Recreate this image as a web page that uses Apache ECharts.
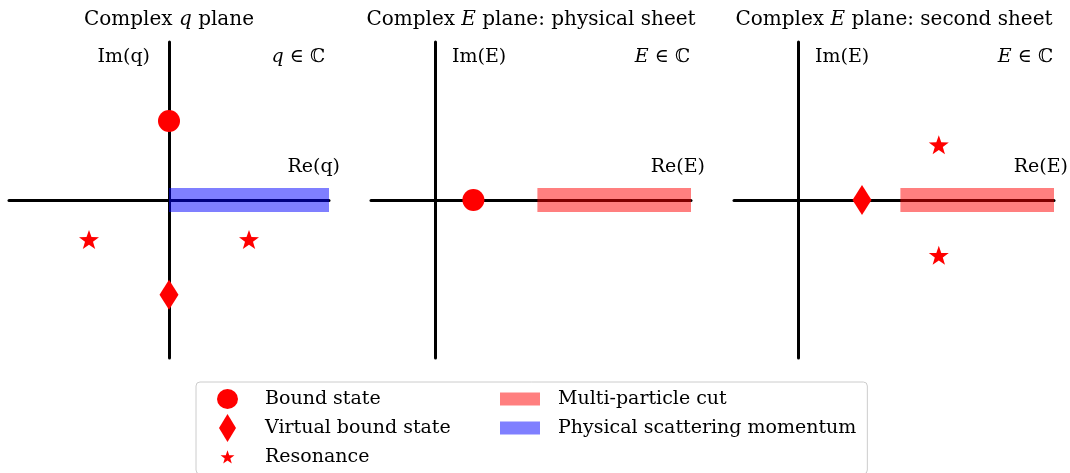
<!DOCTYPE html>
<html>
<head>
<meta charset="utf-8">
<script src="https://cdn.jsdelivr.net/npm/echarts@6/dist/echarts.min.js"></script>
<style>
  html, body { margin: 0; padding: 0; background: #fff; }
  #chart { width: 1070px; height: 473px; }
</style>
</head>
<body>
<div id="chart"></div>
<script>
// axis ranges
const qRange = [-1, 1]
const eRange = [-0.5, 2]
const imRange = [-1, 1]

// complex q plane
const qBound = [[0, 0.5]]
const qVirtual = [[0, -0.6]]
const qResonance = [[-0.5, -0.25], [0.5, -0.25]]
const qScattering = [[0, 0], [1, 0]]

// complex E plane, physical sheet
const physBound = [[0.3, 0]]
const physCut = [[0.8, 0], [2, 0]]

// complex E plane, second sheet
const secondVirtual = [[0.5, 0]]
const secondResonance = [[1.1, 0.35], [1.1, -0.35]]
const secondCut = [[0.8, 0], [2, 0]]

const legendNames = ['Bound state', 'Virtual bound state', 'Resonance', 'Multi-particle cut', 'Physical scattering momentum']

const FONT = '"DejaVu Serif", "DejaVu Sans", serif'
const RED = '#ff0000'
const CUT = 'rgba(255,0,0,0.5)'
const PHYS = 'rgba(0,0,255,0.5)'

function starPath(cx, cy, r) {
  const ri = r * 0.4
  let d = ''
  for (let i = 0; i < 10; i++) {
    const rr = i % 2 === 0 ? r : ri
    const a = -Math.PI / 2 + i * Math.PI / 5
    d += (i === 0 ? 'M' : 'L') + (cx + rr * Math.cos(a)).toFixed(2) + ' ' + (cy + rr * Math.sin(a)).toFixed(2) + ' '
  }
  return d + 'Z'
}

// legend icons live in a 53x28 box, shape centred at x=20.5
const box = 'M0 0 M53 28 '
const legendIcons = [
  'path://' + box + 'M10 14 A10.5 10 0 1 0 31 14 A10.5 10 0 1 0 10 14 Z',
  'path://' + box + 'M20.5 0 L29 14 L20.5 28 L12 14 Z',
  'path://' + box + starPath(20.5, 14.5, 7.3),
  'path://' + box + 'M0 7.5 L40 7.5 L40 20.5 L0 20.5 Z',
  'path://' + box + 'M0 7.5 L40 7.5 L40 20.5 L0 20.5 Z'
]

const grids = [
  { left: 9, top: 42, width: 320, height: 316 },
  { left: 371, top: 42, width: 320, height: 316 },
  { left: 734, top: 42, width: 320, height: 316 }
]

const axisLine = { show: true, onZero: true, lineStyle: { color: '#000', width: 3 } }

function xAxisOf(i, range) {
  return {
    type: 'value', gridIndex: i, min: range[0], max: range[1],
    axisLine, axisTick: { show: false }, axisLabel: { show: false }, splitLine: { show: false }
  }
}
function yAxisOf(i) {
  return {
    type: 'value', gridIndex: i, min: imRange[0], max: imRange[1],
    axisLine, axisTick: { show: false }, axisLabel: { show: false }, splitLine: { show: false }
  }
}

function band(name, i, data, color) {
  return {
    name, type: 'line', xAxisIndex: i, yAxisIndex: i, data,
    symbol: 'none', silent: true, z: 2,
    itemStyle: { color },
    lineStyle: { color, width: 24, cap: 'butt' }
  }
}
function points(name, i, data, symbol, symbolSize) {
  return {
    name, type: 'scatter', xAxisIndex: i, yAxisIndex: i, data,
    symbol, symbolSize, z: 3,
    itemStyle: { color: RED, opacity: 1 }
  }
}

const star = 'path://' + starPath(0, 0, 10)

function label(text, x, y, align, size) {
  size = size || 19
  return {
    type: 'text', x, y,
    style: {
      text, align, verticalAlign: 'middle',
      fontFamily: FONT, fontSize: size, fill: '#000',
      rich: { i: { fontStyle: 'italic', fontFamily: FONT, fontSize: size } }
    }
  }
}

const chart = echarts.init(document.getElementById('chart'))
chart.setOption({
  animation: false,
  grid: grids,
  xAxis: [xAxisOf(0, qRange), xAxisOf(1, eRange), xAxisOf(2, eRange)],
  yAxis: [yAxisOf(0), yAxisOf(1), yAxisOf(2)],
  legend: {
    orient: 'vertical',
    left: 196, top: 382, height: 87,
    padding: [3, 11, 3, 11],
    itemWidth: 53, itemHeight: 28, itemGap: 1,
    borderColor: '#cccccc', borderWidth: 1, borderRadius: 4,
    selectedMode: false,
    formatter: '{t|{name}}',
    textStyle: {
      fontFamily: FONT, fontSize: 19, color: '#000',
      rich: {
        t: {
          width: 234, fontFamily: FONT, fontSize: 19, color: '#000',
          backgroundColor: 'rgba(255,255,255,0)'
        }
      }
    },
    data: legendNames.map((name, k) => ({ name, icon: legendIcons[k] }))
  },
  graphic: [
    label('Complex {i|q} plane', 169, 20, 'center', 20),
    label('Complex {i|E} plane: physical sheet', 531, 20, 'center', 20),
    label('Complex {i|E} plane: second sheet', 894, 20, 'center', 20),
    label('Im(q)', 150, 57, 'right'),
    label('{i|q} ∈ ℂ', 325, 57, 'right'),
    label('Re(q)', 340, 167, 'right'),
    label('Im(E)', 452, 57, 'left'),
    label('{i|E} ∈ ℂ', 690, 57, 'right'),
    label('Re(E)', 705, 167, 'right'),
    label('Im(E)', 815, 57, 'left'),
    label('{i|E} ∈ ℂ', 1053, 57, 'right'),
    label('Re(E)', 1068, 167, 'right')
  ],
  series: [
    band('Physical scattering momentum', 0, qScattering, PHYS),
    points('Bound state', 0, qBound, 'circle', 22),
    points('Virtual bound state', 0, qVirtual, 'diamond', [19, 30]),
    points('Resonance', 0, qResonance, star, [20, 19]),
    band('Multi-particle cut', 1, physCut, CUT),
    points('Bound state', 1, physBound, 'circle', 22),
    band('Multi-particle cut', 2, secondCut, CUT),
    points('Virtual bound state', 2, secondVirtual, 'diamond', [19, 30]),
    points('Resonance', 2, secondResonance, star, [20, 19])
  ]
})
</script>
</body>
</html>
